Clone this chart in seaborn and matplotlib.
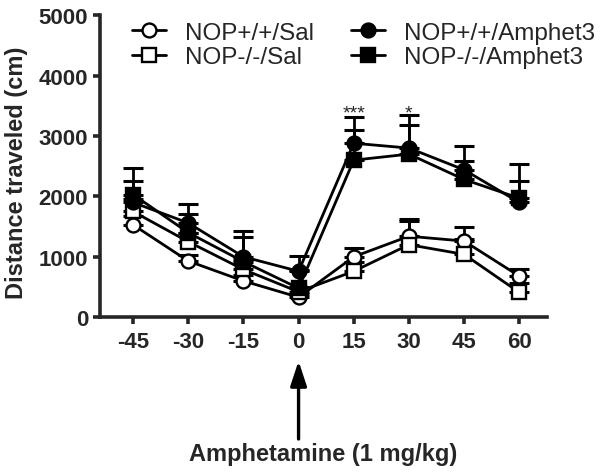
import numpy as np
import matplotlib
matplotlib.use('Agg')
import matplotlib.pyplot as plt
import seaborn as sns

# time relative to amphetamine injection (min)
times = [-45, -30, -15, 0, 15, 30, 45, 60]

# mean distance traveled (cm) and upper SEM bars
wt_sal = [1530, 930, 600, 330, 1000, 1340, 1260, 680]
wt_sal_err = [150, 100, 100, 60, 150, 280, 240, 120]
ko_sal = [1750, 1250, 790, 420, 760, 1200, 1040, 410]
ko_sal_err = [200, 150, 150, 80, 150, 400, 250, 150]
wt_amph = [1900, 1560, 1000, 760, 2880, 2800, 2440, 1900]
wt_amph_err = [350, 320, 430, 250, 440, 550, 390, 630]
ko_amph = [2030, 1400, 920, 480, 2600, 2700, 2280, 1970]
ko_amph_err = [445, 300, 400, 300, 500, 480, 300, 290]

labels = ['NOP+/+/Sal', 'NOP-/-/Sal', 'NOP+/+/Amphet3', 'NOP-/-/Amphet3']
stars = {15: '***', 30: '*'}

sns.set_style('ticks')
plt.rcParams['font.family'] = ['Liberation Sans', 'DejaVu Sans']
plt.rcParams['axes.unicode_minus'] = False

fig = plt.figure(figsize=(6.02, 4.77), dpi=100)
ax = fig.add_axes([0.166, 0.333, 0.743, 0.633])

series = [
    (labels[0], wt_sal, wt_sal_err, 'o', 'white'),
    (labels[1], ko_sal, ko_sal_err, 's', 'white'),
    (labels[2], wt_amph, wt_amph_err, 'o', 'black'),
    (labels[3], ko_amph, ko_amph_err, 's', 'black'),
]

handles = []
for label, mean, err, marker, face in series:
    ax.errorbar(times, mean, yerr=[np.zeros(len(err)), err], fmt='none',
                ecolor='black', elinewidth=2, capsize=7, capthick=2.2, zorder=2)
    sns.lineplot(x=times, y=mean, ax=ax, color='black', lw=2.0,
                 marker=marker, markersize=10, markerfacecolor=face,
                 markeredgecolor='black', markeredgewidth=1.7,
                 label=label, zorder=3)
    handles.append(ax.get_lines()[-1])

for t, s in stars.items():
    ax.text(t, 3300, s, ha='center', va='baseline', fontsize=14)

ax.set_xlim(-54, 67.6)
ax.set_ylim(0, 5000)
ax.set_xticks(times)
ax.set_yticks([0, 1000, 2000, 3000, 4000, 5000])
ax.set_xlabel('')
sns.despine(ax=ax)
for sp in ['left', 'bottom']:
    ax.spines[sp].set_linewidth(2.6)
ax.tick_params(width=2.6, length=5, labelsize=16)
ax.tick_params(axis='x', pad=5)
for lbl in ax.get_xticklabels() + ax.get_yticklabels():
    lbl.set_fontweight('bold')

ax.set_ylabel('Distance traveled (cm)', fontsize=17, fontweight='bold')
ax.yaxis.set_label_coords(-0.16, 0.48)

ax.legend(handles, labels, ncol=2, frameon=False, fontsize=17.5,
          loc='upper left', bbox_to_anchor=(0.219, 0.952),
          bbox_transform=fig.transFigure, handlelength=1.4,
          handletextpad=0.8, columnspacing=1.5, labelspacing=0.1,
          borderpad=0, borderaxespad=0)

# injection arrow below the x axis
ax.annotate('', xy=(0, 115), xycoords=('data', 'figure pixels'),
            xytext=(0, 37), textcoords=('data', 'figure pixels'),
            arrowprops=dict(arrowstyle='-|>,head_length=1.0,head_width=0.33',
                            lw=2.4, color='black', mutation_scale=15,
                            shrinkA=0, shrinkB=0),
            annotation_clip=False)
fig.text(323 / 602, 22 / 477, 'Amphetamine (1 mg/kg)', ha='center',
         va='center', fontsize=17, fontweight='bold')

fig.savefig('out.png', dpi=100)
